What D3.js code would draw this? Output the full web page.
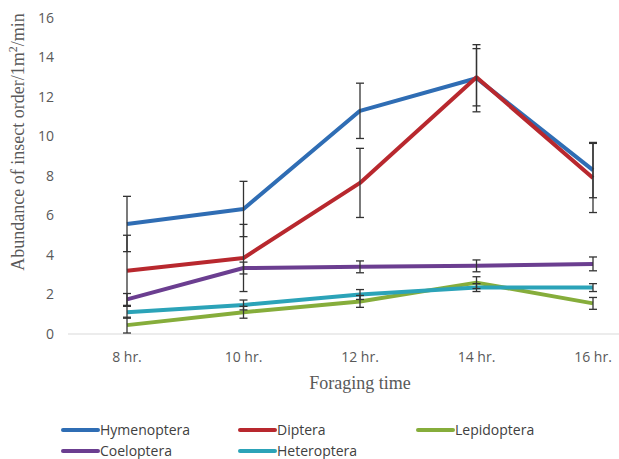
<!DOCTYPE html>
<html>
<head>
<meta charset="utf-8">
<script src="https://cdn.jsdelivr.net/npm/d3@7"></script>
<style>
  body { margin: 0; background: #fff; }
  svg { display: block; }
</style>
</head>
<body>
<div id="chart"></div>
<script>
// categories and tick labels
var times = ["8 hr.", "10 hr.", "12 hr.", "14 hr.", "16 hr."];
var yTicks = [0, 2, 4, 6, 8, 10, 12, 14, 16];

// series values (means) and error bar half-widths
var hymenoptera     = [5.57, 6.33, 11.3, 12.95, 8.3];
var hymenopteraErr  = [1.4, 1.4, 1.4, 1.7, 1.4];
var diptera         = [3.2, 3.85, 7.65, 13.0, 7.9];
var dipteraErr      = [1.8, 1.7, 1.75, 1.45, 1.75];
var lepidoptera     = [0.45, 1.1, 1.65, 2.6, 1.55];
var lepidopteraErr  = [0.4, 0.3, 0.3, 0.3, 0.3];
var coeloptera      = [1.75, 3.34, 3.4, 3.45, 3.55];
var coelopteraErr   = [0.3, 0.3, 0.3, 0.3, 0.35];
var heteroptera     = [1.1, 1.47, 2.0, 2.35, 2.35];
var heteropteraErr  = [0.3, 0.25, 0.25, 0.2, 0.2];

var series = [
  { name: "Hymenoptera", values: hymenoptera, err: hymenopteraErr, color: "#2f6db4" },
  { name: "Diptera",     values: diptera,     err: dipteraErr,     color: "#b8282e" },
  { name: "Lepidoptera", values: lepidoptera, err: lepidopteraErr, color: "#86ad3b" },
  { name: "Coeloptera",  values: coeloptera,  err: coelopteraErr,  color: "#6b3e90" },
  { name: "Heteroptera", values: heteroptera, err: heteropteraErr, color: "#2ba3b8" }
];

// --------------------------------------------------------

var chart_width  = 619;
var chart_height = 459;

var svg = d3.select("#chart")
  .append("svg")
  .attr("width", chart_width)
  .attr("height", chart_height);

// --------------------------------------------------------

// scales
var x_scale = d3.scalePoint()
  .domain(times)
  .range([127, 593]);

var y_scale = d3.scaleLinear()
  .domain([0, 16])
  .range([334, 18]);

// --------------------------------------------------------

// x axis line
svg.append("line")
  .attr("x1", 68)
  .attr("x2", chart_width)
  .attr("y1", y_scale(0))
  .attr("y2", y_scale(0))
  .attr("stroke", "#d9d9d9")
  .attr("stroke-width", 1);

// y tick labels
svg.selectAll(".ytick")
  .data(yTicks)
  .enter()
  .append("text")
  .attr("class", "ytick")
  .attr("x", 54)
  .attr("y", (d) => y_scale(d))
  .attr("dy", "0.35em")
  .attr("text-anchor", "end")
  .attr("font-family", "'Open Sans', sans-serif")
  .attr("font-size", 14)
  .attr("fill", "#595959")
  .text((d) => d);

// x tick labels
svg.selectAll(".xtick")
  .data(times)
  .enter()
  .append("text")
  .attr("class", "xtick")
  .attr("x", (d) => x_scale(d))
  .attr("y", 362)
  .attr("text-anchor", "middle")
  .attr("font-family", "'Open Sans', sans-serif")
  .attr("font-size", 14)
  .attr("fill", "#595959")
  .text((d) => d);

// axis titles
svg.append("text")
  .attr("x", 360)
  .attr("y", 389)
  .attr("text-anchor", "middle")
  .attr("font-family", "'Liberation Serif', serif")
  .attr("font-size", 18)
  .attr("fill", "#595959")
  .text("Foraging time");

var ytitle = svg.append("text")
  .attr("transform", "translate(24,142) rotate(-90)")
  .attr("text-anchor", "middle")
  .attr("font-family", "'Liberation Serif', serif")
  .attr("font-size", 18)
  .attr("fill", "#595959");
ytitle.append("tspan").text("Abundance of insect order/1m");
ytitle.append("tspan").attr("font-size", 12).attr("dy", -7).text("2");
ytitle.append("tspan").attr("dy", 7).text("/min");

// --------------------------------------------------------

// lines
var line = d3.line()
  .x((d, i) => x_scale(times[i]))
  .y((d) => y_scale(d));

svg.selectAll(".series")
  .data(series)
  .enter()
  .append("path")
  .attr("class", "series")
  .attr("d", (d) => line(d.values))
  .attr("fill", "none")
  .attr("stroke", (d) => d.color)
  .attr("stroke-width", 4)
  .attr("stroke-linejoin", "round");

// error bars
var bars = [];
series.forEach((s) => {
  s.values.forEach((v, i) => {
    bars.push({ t: times[i], lo: v - s.err[i], hi: v + s.err[i] });
  });
});

var eb = svg.selectAll(".errbar")
  .data(bars)
  .enter()
  .append("g")
  .attr("class", "errbar")
  .attr("stroke", "#333")
  .attr("stroke-width", 1.3);

eb.append("line")
  .attr("x1", (d) => x_scale(d.t))
  .attr("x2", (d) => x_scale(d.t))
  .attr("y1", (d) => y_scale(d.lo))
  .attr("y2", (d) => y_scale(d.hi));

eb.append("line")
  .attr("x1", (d) => x_scale(d.t) - 4)
  .attr("x2", (d) => x_scale(d.t) + 4)
  .attr("y1", (d) => y_scale(d.lo))
  .attr("y2", (d) => y_scale(d.lo));

eb.append("line")
  .attr("x1", (d) => x_scale(d.t) - 4)
  .attr("x2", (d) => x_scale(d.t) + 4)
  .attr("y1", (d) => y_scale(d.hi))
  .attr("y2", (d) => y_scale(d.hi));

// --------------------------------------------------------

// legend
var legendPos = [[63, 430], [240, 430], [418, 430], [63, 451], [240, 451]];

var lg = svg.selectAll(".legend")
  .data(series)
  .enter()
  .append("g")
  .attr("class", "legend")
  .attr("transform", (d, i) => "translate(" + legendPos[i][0] + "," + legendPos[i][1] + ")");

lg.append("line")
  .attr("x1", 0)
  .attr("x2", 35)
  .attr("stroke", (d) => d.color)
  .attr("stroke-width", 4)
  .attr("stroke-linecap", "round");

lg.append("text")
  .attr("x", 37)
  .attr("dy", "0.35em")
  .attr("font-family", "'Open Sans', sans-serif")
  .attr("font-size", 14)
  .attr("fill", "#404040")
  .text((d) => d.name);
</script>
</body>
</html>
